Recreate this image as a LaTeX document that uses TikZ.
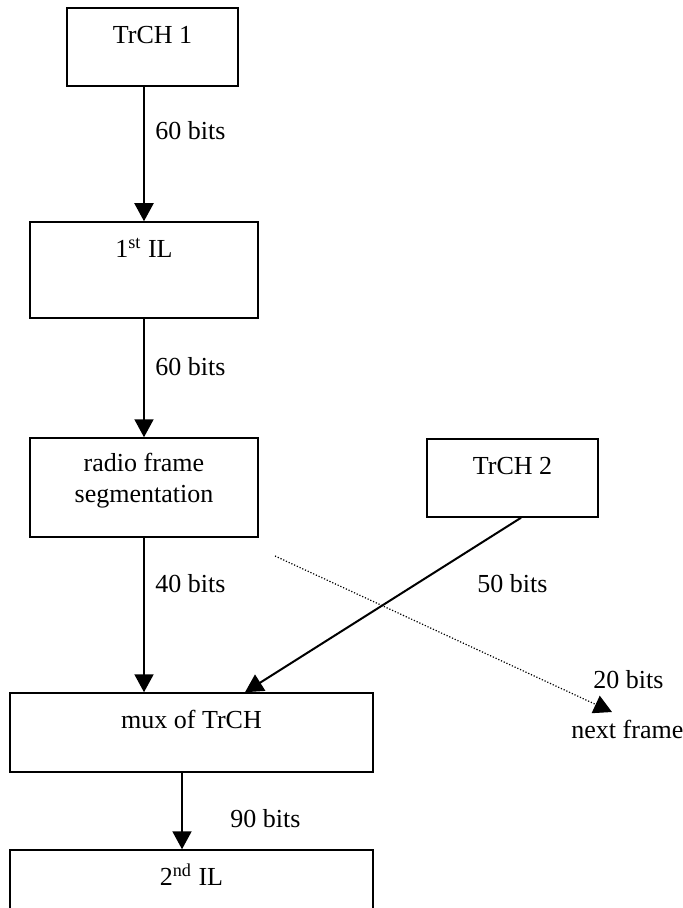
\documentclass[tikz,border=0pt]{standalone}
\usepackage{fontspec}
\setmainfont{Liberation Serif}
\usetikzlibrary{arrows.meta, positioning}

\begin{document}
\begin{tikzpicture}[x=0.5pt, y=-0.5pt, >={Triangle[length=9pt, width=9.5pt]},
    blk/.style={draw, line width=0.75pt, inner sep=0pt},
    txt/.style={inner sep=0pt, font=\fontsize{13}{15.5}\selectfont},
    one/.style={txt, text height=9pt, text depth=2.5pt},
    flow/.style={->, line width=1pt}]
    \clip (0,0) rectangle (683,908);

    % Blocks
    \node[blk, minimum width=85.5pt, minimum height=39pt] (trch1) at (152.5,47) {};
    \node[blk, minimum width=114pt, minimum height=48pt] (il1) at (144,270) {};
    \node[blk, minimum width=114pt, minimum height=49.5pt] (rfs) at (144,487.5) {};
    \node[blk, minimum width=85.5pt, minimum height=39pt] (trch2) at (512.5,478) {};
    \node[blk, minimum width=181.5pt, minimum height=39.5pt] (mux) at (191.5,732.5) {};
    \node[blk, minimum width=181.5pt, minimum height=50pt] (il2) at (191.5,900) {};

    % Block texts
    \node[one, below=9pt of trch1.north] (trch1-t) {TrCH 1};
    \node[one, below=9pt of il1.north] (il1-t) {1\textsuperscript{st} IL};
    \node[txt, align=center, below=8pt of rfs.north] (rfs-t) {radio frame\\segmentation};
    \node[one, below=9pt of trch2.north] (trch2-t) {TrCH 2};
    \node[one, below=9pt of mux.north] (mux-t) {mux of TrCH};
    \node[one, below=9pt of il2.north] (il2-t) {2\textsuperscript{nd} IL};

    % Data flow
    \draw[flow] (il1.north |- trch1.south) -- (il1.north);
    \draw[flow] (il1.south) -- (rfs.north);
    \draw[flow] (rfs.south) -- (rfs.south |- mux.north);
    \draw[flow] ([xshift=4.25pt]trch2.south) -- ([xshift=26.75pt]mux.north);
    \draw[flow] ([xshift=-4.75pt]mux.south) -- ([xshift=-4.75pt]il2.north);

    % Bits left over for the next frame
    \coordinate (cut) at (275,556);
    \coordinate (nxt) at (612,712);
    \draw[->, line width=0.6pt, dash pattern=on 0.6pt off 0.9pt] (cut) -- (nxt);

    % Bit counts
    \node[one, anchor=base west] (b60a) at (155,140) {60 bits};
    \node[one, anchor=base west] (b60b) at (155,375) {60 bits};
    \node[one, anchor=base west] (b40) at (155,592) {40 bits};
    \node[one, anchor=base west] (b50) at (477,592) {50 bits};
    \node[one, anchor=base west] (b20) at (593,688) {20 bits};
    \node[one, anchor=base west] (next) at (571,738) {next frame};
    \node[one, anchor=base west] (b90) at (230,827) {90 bits};
\end{tikzpicture}
\end{document}
